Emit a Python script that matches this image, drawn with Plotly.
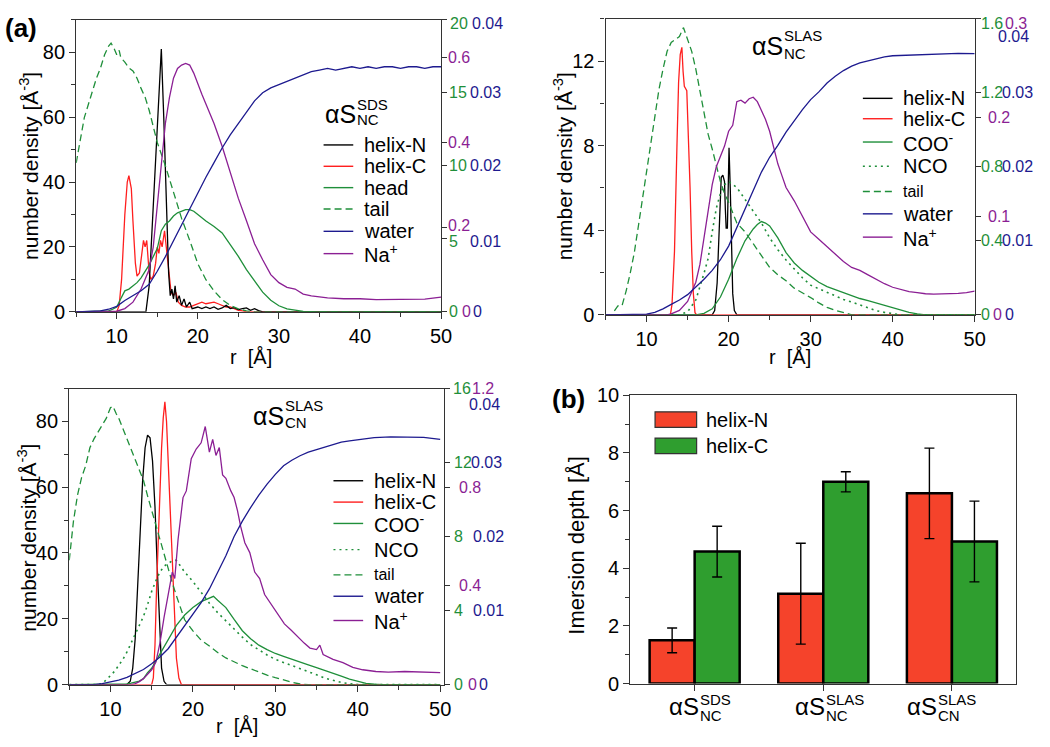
import plotly.graph_objects as go

# ---------------- data ----------------
# (a) top-left: aS NC in SDS
sds_tail_r = [5, 6, 7, 7.5, 8, 8.5, 9, 9.3, 9.7, 10, 10.3, 10.5, 11, 11.5, 12, 12.5, 13, 13.5, 14, 14.5, 15, 16, 17, 18, 19, 20, 21, 22, 23, 24, 25, 26, 27, 50]
sds_tail = [10.2, 13.3, 15.1, 16.0, 16.7, 17.6, 18.2, 18.4, 18.0, 17.6, 17.9, 17.4, 17.1, 16.7, 16.5, 16.0, 15.3, 14.7, 13.8, 12.7, 11.6, 10.0, 8.2, 6.4, 4.9, 3.3, 2.2, 1.44, 0.84, 0.44, 0.2, 0.07, 0, 0]
sds_head_r = [5, 8, 9, 9.5, 10, 10.5, 11, 11.5, 12, 12.5, 13, 13.5, 14, 14.5, 15, 15.5, 16, 16.5, 17, 17.5, 18, 18.5, 19, 19.5, 20, 21, 22, 23, 24, 25, 26, 27, 28, 29, 30, 31, 32, 33, 34, 35, 50]
sds_head = [0, 0.02, 0.07, 0.18, 0.33, 0.9, 1.44, 1.56, 1.78, 2.0, 2.33, 2.78, 3.22, 3.78, 4.33, 5.56, 6.0, 6.22, 6.56, 6.78, 6.89, 7.0, 7.0, 6.89, 6.67, 6.22, 5.85, 5.4, 4.6, 3.8, 2.9, 2.1, 1.35, 0.8, 0.42, 0.2, 0.1, 0.04, 0.01, 0, 0]
sds_hn_r = [5, 13.6, 14, 14.5, 15, 15.5, 15.8, 16.1, 16.4, 16.6, 16.8, 17, 17.2, 17.4, 17.7, 18, 18.3, 18.6, 19, 19.3, 20, 20.5, 21, 21.5, 22, 22.5, 23, 23.5, 24, 24.5, 25, 25.5, 26, 26.5, 27, 27.5, 28, 50]
sds_hn = [0, 0, 8, 33, 58, 81, 60, 35, 12, 5, 7, 4, 8, 3, 5, 2, 4, 1.5, 3, 1, 1.5, 1, 1.5, 1, 1.5, 0.8, 1.2, 2, 1, 1.3, 0.7, 1, 1.2, 0.5, 1, 0.4, 0, 0]
sds_hc_r = [5, 10, 10.3, 10.6, 11, 11.3, 11.5, 11.8, 12, 12.3, 12.5, 12.8, 13, 13.3, 13.5, 13.7, 14, 14.2, 14.5, 14.8, 15, 15.2, 15.4, 15.6, 15.9, 16.1, 16.4, 16.7, 17, 17.3, 17.6, 18, 18.5, 19, 19.5, 20, 20.5, 21, 21.5, 22, 22.5, 23, 23.5, 24, 24.5, 25, 25.5, 26, 50]
sds_hc = [0, 0, 2, 10, 30, 40, 42, 38, 28, 15, 11, 12, 16, 22, 20, 22, 12, 10, 11, 15, 20, 18, 22, 20, 25, 20, 12, 6, 5, 6, 3, 2, 1.5, 1.5, 2, 2.5, 3, 2.5, 2.8, 3, 2.5, 2, 1.5, 1.5, 1, 0.5, 0.3, 0, 0]
sds_water_r = [5, 7, 8, 9, 10, 11, 12, 13, 14, 15, 16, 17, 18, 19, 20, 21, 22, 23, 24, 25, 26, 27, 28, 29, 30, 31, 32, 33, 34, 35, 36, 37, 38, 39, 40, 41, 42, 43, 44, 45, 46, 47, 48, 49, 50]
sds_water = [0, 0.00002, 0.00013, 0.00036, 0.00076, 0.00156, 0.00222, 0.00289, 0.00378, 0.00556, 0.00756, 0.00978, 0.012, 0.01422, 0.01644, 0.01844, 0.02044, 0.02244, 0.02422, 0.02578, 0.02733, 0.02889, 0.03, 0.03067, 0.03111, 0.03156, 0.032, 0.03244, 0.03289, 0.03311, 0.03333, 0.03311, 0.03333, 0.03356, 0.03333, 0.03356, 0.03333, 0.03356, 0.03356, 0.03333, 0.03356, 0.03356, 0.03333, 0.03356, 0.03356]
sds_na_r = [5, 9, 10, 11, 12, 13, 13.5, 14, 14.5, 15, 15.5, 16, 16.5, 17, 17.5, 18, 18.5, 19, 19.5, 20, 20.5, 21, 22, 23, 24, 25, 26, 27, 28, 29, 30, 31, 32, 33, 34, 35, 36, 38, 40, 42, 45, 48, 50]
sds_na = [0, 0, 0.0015, 0.0077, 0.023, 0.054, 0.077, 0.1, 0.153, 0.245, 0.353, 0.445, 0.506, 0.552, 0.575, 0.583, 0.587, 0.583, 0.564, 0.537, 0.514, 0.491, 0.445, 0.391, 0.33, 0.268, 0.215, 0.161, 0.123, 0.088, 0.069, 0.058, 0.054, 0.042, 0.038, 0.035, 0.033, 0.031, 0.031, 0.029, 0.029, 0.03, 0.035]

# top-right: aS NC in SLAS
nc_tail_r = [5, 5.8, 6, 6.5, 7, 7.5, 8, 8.5, 9, 9.5, 10, 10.5, 11, 11.5, 12, 12.5, 13, 13.5, 14, 14.5, 15, 15.5, 16, 16.5, 17, 17.5, 18, 18.5, 19, 19.5, 20, 21, 22, 23, 24, 25, 26, 27, 28, 29, 30, 31, 32, 33, 34, 35, 50]
nc_tail = [0, 0, 0.016, 0.048, 0.048, 0.128, 0.224, 0.336, 0.48, 0.624, 0.768, 0.928, 1.056, 1.216, 1.328, 1.424, 1.472, 1.488, 1.504, 1.552, 1.488, 1.424, 1.328, 1.216, 1.104, 0.976, 0.896, 0.8, 0.72, 0.656, 0.608, 0.496, 0.448, 0.384, 0.32, 0.256, 0.216, 0.184, 0.144, 0.12, 0.093, 0.064, 0.04, 0.024, 0.01, 0, 0]
nc_nco_r = [5, 14, 15, 16, 17, 17.5, 18, 18.5, 19, 19.5, 20, 20.5, 21, 21.5, 22, 23, 24, 25, 26, 27, 28, 29, 30, 31, 32, 33, 34, 35, 36, 37, 38, 39, 40, 41, 50]
nc_nco = [0, 0, 0.016, 0.08, 0.224, 0.304, 0.448, 0.576, 0.656, 0.704, 0.72, 0.704, 0.688, 0.656, 0.624, 0.56, 0.496, 0.416, 0.352, 0.296, 0.248, 0.2, 0.16, 0.141, 0.12, 0.099, 0.083, 0.069, 0.053, 0.037, 0.022, 0.013, 0.005, 0, 0]
nc_coo_r = [5, 16, 17, 18, 19, 20, 21, 22, 23, 23.5, 24, 24.5, 25, 26, 27, 28, 29, 30, 31, 32, 33, 34, 35, 36, 37, 38, 39, 40, 41, 42, 43, 44, 50]
nc_coo = [0, 0, 0.008, 0.032, 0.096, 0.192, 0.304, 0.4, 0.464, 0.488, 0.504, 0.496, 0.48, 0.416, 0.336, 0.28, 0.24, 0.208, 0.176, 0.152, 0.136, 0.12, 0.104, 0.088, 0.077, 0.064, 0.048, 0.035, 0.022, 0.013, 0.005, 0, 0]
nc_hn_r = [5, 18, 18.3, 18.6, 18.9, 19.1, 19.3, 19.5, 19.6, 19.7, 19.85, 19.95, 20.05, 20.2, 20.35, 20.5, 20.7, 21, 50]
nc_hn = [0, 0, 0.2, 1.5, 4.5, 6.5, 6.6, 6.3, 5, 4.1, 4.1, 6, 7.9, 6, 3, 1, 0.2, 0, 0]
nc_hc_r = [5, 12.9, 13.1, 13.4, 13.7, 13.9, 14.1, 14.3, 14.45, 14.6, 14.9, 15.1, 15.3, 15.5, 15.7, 15.9, 16.1, 50]
nc_hc = [0, 0, 0.5, 3, 8, 11, 12.3, 12.65, 11.5, 10.8, 10.6, 8.5, 6, 3, 1, 0.1, 0, 0]
nc_water_r = [5, 8, 9, 10, 11, 12, 13, 14, 15, 16, 17, 18, 19, 20, 21, 22, 23, 24, 25, 26, 27, 28, 29, 30, 31, 32, 33, 34, 35, 36, 37, 38, 39, 40, 42, 44, 46, 48, 50]
nc_water = [0, 0, 0.00004, 0.00008, 0.00032, 0.0008, 0.0014, 0.002, 0.00272, 0.00372, 0.0048, 0.006, 0.00744, 0.00928, 0.0118, 0.01432, 0.01688, 0.01928, 0.02128, 0.02288, 0.02468, 0.02628, 0.02772, 0.02908, 0.03012, 0.03132, 0.03224, 0.033, 0.0336, 0.03404, 0.03432, 0.0346, 0.03484, 0.035, 0.03508, 0.03516, 0.03528, 0.03532, 0.03528]
nc_na_r = [5, 12.5, 13, 14, 15, 16, 16.5, 17, 17.5, 18, 18.5, 19, 19.5, 20, 20.5, 21, 21.5, 22, 22.5, 23, 23.5, 24, 24.5, 25, 25.5, 26, 26.5, 27, 28, 29, 30, 31, 32, 33, 34, 35, 36, 37, 38, 39, 40, 41, 42, 43, 44, 45, 46, 47, 48, 49, 50]
nc_na = [0, 0, 0.0009, 0.0045, 0.0135, 0.033, 0.051, 0.078, 0.108, 0.132, 0.15, 0.1605, 0.171, 0.186, 0.192, 0.216, 0.2175, 0.2145, 0.219, 0.2205, 0.216, 0.207, 0.198, 0.186, 0.168, 0.153, 0.141, 0.129, 0.1155, 0.099, 0.084, 0.0765, 0.069, 0.0615, 0.054, 0.048, 0.045, 0.0405, 0.036, 0.0315, 0.0279, 0.0255, 0.0234, 0.0225, 0.0213, 0.021, 0.021, 0.0213, 0.0216, 0.0225, 0.024]

# bottom-left: aS CN in SLAS
cn_tail_r = [5, 5.5, 6, 6.5, 7, 7.5, 8, 8.5, 9, 9.5, 10, 10.3, 10.7, 11, 11.5, 12, 12.5, 13, 13.5, 14, 14.5, 15, 15.5, 16, 16.5, 17, 17.5, 18, 18.5, 19, 20, 21, 22, 23, 24, 25, 26, 27, 28, 29, 30, 31, 32, 33, 34, 50]
cn_tail = [6.72, 8.8, 10.24, 11.2, 11.84, 12.8, 13.28, 13.68, 14.08, 14.4, 14.96, 15.04, 14.64, 14.4, 13.84, 13.28, 12.8, 12.24, 11.6, 11.04, 10.2, 9.4, 8.6, 7.8, 7.1, 6.3, 5.5, 4.8, 4.1, 3.5, 2.9, 2.4, 2.08, 1.73, 1.44, 1.22, 1.02, 0.85, 0.67, 0.51, 0.37, 0.24, 0.13, 0.03, 0, 0]
cn_nco_r = [5, 8.5, 9, 9.5, 10, 10.5, 11, 11.5, 12, 12.5, 13, 13.5, 14, 14.5, 15, 15.5, 16, 16.5, 17, 17.5, 18, 18.5, 19, 20, 21, 22, 23, 24, 25, 26, 27, 28, 29, 30, 31, 32, 33, 34, 35, 36, 37, 38, 39, 40, 50]
cn_nco = [0, 0, 0.05, 0.24, 0.48, 0.72, 1.04, 1.36, 1.76, 2.24, 2.72, 3.12, 3.68, 4.32, 5.04, 5.6, 6.08, 6.4, 6.56, 6.69, 6.72, 6.4, 6.08, 5.57, 4.96, 4.4, 3.89, 3.44, 3.04, 2.56, 2.16, 1.86, 1.6, 1.36, 1.2, 1.04, 0.88, 0.7, 0.53, 0.35, 0.22, 0.11, 0.05, 0, 0]
cn_coo_r = [5, 11.5, 12, 12.5, 13, 13.5, 14, 14.5, 15, 15.5, 16, 17, 18, 19, 20, 21, 22, 22.5, 23, 24, 25, 26, 27, 28, 29, 30, 31, 32, 33, 34, 35, 36, 37, 38, 39, 40, 41, 42, 43, 50]
cn_coo = [0, 0, 0.03, 0.08, 0.13, 0.19, 0.32, 0.64, 0.88, 1.28, 1.68, 2.4, 3.2, 3.76, 4.16, 4.48, 4.69, 4.77, 4.56, 4.16, 3.52, 2.91, 2.48, 2.13, 1.89, 1.68, 1.52, 1.38, 1.22, 1.07, 0.91, 0.77, 0.61, 0.45, 0.29, 0.16, 0.06, 0.02, 0, 0]
cn_hn_r = [5, 12, 12.4, 12.7, 13, 13.3, 13.6, 13.9, 14.2, 14.5, 14.8, 15.1, 15.4, 15.7, 16, 16.2, 16.5, 16.8, 50]
cn_hn = [0, 0, 1, 5, 14, 28, 46, 62, 72, 75.8, 75, 68, 54, 34, 14, 5, 1, 0, 0]
cn_hc_r = [5, 15, 15.2, 15.4, 15.6, 15.8, 16, 16.2, 16.4, 16.6, 16.8, 17, 17.2, 17.4, 17.6, 17.8, 18, 18.3, 18.6, 50]
cn_hc = [0, 0, 2, 12, 30, 45, 58, 72, 81, 86, 80, 68, 55, 42, 30, 17, 8, 2, 0, 0]
cn_water_r = [5, 8, 9, 10, 11, 12, 13, 14, 15, 16, 17, 18, 19, 20, 21, 22, 23, 24, 25, 26, 27, 28, 29, 30, 31, 32, 33, 34, 35, 36, 37, 38, 39, 40, 42, 44, 46, 48, 50]
cn_water = [0, 0, 0.00012, 0.00032, 0.0006, 0.00096, 0.00148, 0.00204, 0.0028, 0.00372, 0.00484, 0.0064, 0.00792, 0.0094, 0.01108, 0.01292, 0.01512, 0.0174, 0.02, 0.02208, 0.02392, 0.0256, 0.02708, 0.0284, 0.02956, 0.03032, 0.03092, 0.0314, 0.03176, 0.03212, 0.03248, 0.03276, 0.03292, 0.03308, 0.03336, 0.03348, 0.03348, 0.0334, 0.03312]
cn_na_r = [5, 12.5, 13, 13.5, 14, 14.5, 15, 15.5, 16, 16.5, 17, 17.5, 17.8, 18.2, 18.8, 19.2, 19.8, 20.4, 21, 21.5, 22, 22.4, 22.8, 23.2, 23.6, 24, 24.6, 25, 25.4, 25.8, 26.3, 26.9, 27.5, 28.1, 28.7, 29.5, 30.3, 31.1, 31.9, 32.7, 33.5, 34.2, 35, 35.4, 35.8, 37, 38.2, 39.4, 40.6, 42.2, 43.7, 45.7, 47.7, 49.7, 50]
cn_na = [0, 0, 0.0036, 0.012, 0.024, 0.043, 0.06, 0.09, 0.168, 0.272, 0.372, 0.456, 0.43, 0.588, 0.758, 0.785, 0.916, 0.955, 0.98, 1.046, 0.942, 0.994, 0.929, 0.961, 0.85, 0.836, 0.785, 0.758, 0.706, 0.64, 0.575, 0.535, 0.456, 0.43, 0.365, 0.325, 0.286, 0.246, 0.221, 0.194, 0.168, 0.148, 0.142, 0.16, 0.122, 0.102, 0.089, 0.07, 0.06, 0.053, 0.05, 0.053, 0.05, 0.046, 0.048]

# (b) immersion depth
systems = [("SDS", "NC"), ("SLAS", "NC"), ("SLAS", "CN")]
depth_helixN = [1.5, 3.12, 6.6]
err_helixN = [0.43, 1.75, 1.57]
depth_helixC = [4.58, 7.0, 4.93]
err_helixC = [0.88, 0.35, 1.4]

# right-hand axis ticks
sds_green_ticks = [0, 5, 10, 15, 20]
sds_purple_ticks = [0, 0.2, 0.4, 0.6]
sds_navy_ticks = [0, 0.01, 0.02, 0.03, 0.04]
nc_green_ticks = [0, 0.4, 0.8, 1.2, 1.6]
nc_purple_ticks = [0, 0.1, 0.2, 0.3]
nc_navy_ticks = [0, 0.01, 0.02, 0.03, 0.04]
cn_green_ticks = [0, 4, 8, 12, 16]
cn_purple_ticks = [0, 0.4, 0.8, 1.2]
cn_navy_ticks = [0, 0.01, 0.02, 0.03, 0.04]

# ---------------- style ----------------
W, H = 1050, 747
FONT = "Liberation Sans, Arial, sans-serif"
GREEN = "#1f8f3a"
NAVY = "#1d1a8f"
PURPLE = "#8b1f94"
RED = "#ff1f1f"
BLACK = "#000000"
AXC = "#333333"
BAR_RED = "#f5432b"
BAR_GREEN = "#2f9e2f"
DASH = "7px,4px"
DOT = "2px,4px"


def fx(p):
    return p / W


def fy(p):
    return 1 - p / H


fig = go.Figure()


def line(xs, ys, xa, ya, color, dash="solid", width=1.3):
    fig.add_trace(go.Scatter(x=xs, y=ys, xaxis=xa, yaxis=ya, mode="lines",
                             line=dict(color=color, width=width, dash=dash),
                             showlegend=False, hoverinfo="skip"))


# panel 1: y left / y2 green / y3 purple / y4 navy
line(sds_tail_r, sds_tail, "x", "y2", GREEN, DASH)
line(sds_head_r, sds_head, "x", "y2", GREEN)
line(sds_water_r, sds_water, "x", "y4", NAVY)
line(sds_na_r, sds_na, "x", "y3", PURPLE)
line(sds_hc_r, sds_hc, "x", "y", RED)
line(sds_hn_r, sds_hn, "x", "y", BLACK)

# panel 2
line(nc_tail_r, nc_tail, "x2", "y6", GREEN, DASH)
line(nc_nco_r, nc_nco, "x2", "y6", GREEN, DOT, 1.6)
line(nc_coo_r, nc_coo, "x2", "y6", GREEN)
line(nc_water_r, nc_water, "x2", "y8", NAVY)
line(nc_na_r, nc_na, "x2", "y7", PURPLE)
line(nc_hn_r, nc_hn, "x2", "y5", BLACK)
line(nc_hc_r, nc_hc, "x2", "y5", RED)

# panel 3
line(cn_tail_r, cn_tail, "x3", "y10", GREEN, DASH)
line(cn_nco_r, cn_nco, "x3", "y10", GREEN, DOT, 1.6)
line(cn_coo_r, cn_coo, "x3", "y10", GREEN)
line(cn_water_r, cn_water, "x3", "y12", NAVY)
line(cn_na_r, cn_na, "x3", "y11", PURPLE)
line(cn_hn_r, cn_hn, "x3", "y9", BLACK)
line(cn_hc_r, cn_hc, "x3", "y9", RED)

# panel 4 bars
cats = list(range(len(systems)))
fig.add_trace(go.Bar(x=cats, y=depth_helixN, xaxis="x4", yaxis="y13",
                     marker=dict(color=BAR_RED, line=dict(color="black", width=2.5)),
                     error_y=dict(type="data", array=err_helixN, color="black", thickness=1.4, width=5),
                     showlegend=False, hoverinfo="skip"))
fig.add_trace(go.Bar(x=cats, y=depth_helixC, xaxis="x4", yaxis="y13",
                     marker=dict(color=BAR_GREEN, line=dict(color="black", width=2.5)),
                     error_y=dict(type="data", array=err_helixC, color="black", thickness=1.4, width=5),
                     showlegend=False, hoverinfo="skip"))

tickfont = dict(family=FONT, size=20, color="black")
base = dict(showline=True, linecolor=AXC, linewidth=1.3, mirror=True, ticks="outside",
            ticklen=6, tickwidth=1.2, tickcolor=AXC, showgrid=False, zeroline=False,
            tickfont=tickfont, layer="below traces")


def xr(dom, rng):
    return dict(base, domain=[fx(dom[0]), fx(dom[1])], range=rng, tick0=0, dtick=10,
                minor=dict(dtick=5, ticks="outside", ticklen=4, tickcolor=AXC, showgrid=False))


def yl(dom, rng, dt, mdt, anchor):
    return dict(base, domain=[fy(dom[1]), fy(dom[0])], range=rng, tick0=0, dtick=dt, anchor=anchor,
                minor=dict(dtick=mdt, ticks="outside", ticklen=4, tickcolor=AXC, showgrid=False))


def yr(over, anchor, rng, tv, show=True):
    return dict(overlaying=over, anchor=anchor, side="right", range=rng, tickvals=tv,
                showticklabels=False, ticks="outside" if show else "", ticklen=5, tickwidth=1.2,
                tickcolor=AXC, showgrid=False, zeroline=False, showline=False)


fig.update_layout(
    xaxis=dict(xr((77, 445.7), [5, 50]), anchor="y"),
    yaxis=yl((9, 310), [0, 90], 20, 10, "x"),
    yaxis2=yr("y", "x", [0, 20], sds_green_ticks),
    yaxis3=yr("y", "x", [0, 0.69], sds_purple_ticks),
    yaxis4=yr("y", "x", [0, 0.04], [], False),
    xaxis2=dict(xr((612, 985), [5, 50]), anchor="y5"),
    yaxis5=yl((8, 313), [0, 14], 4, 2, "x2"),
    yaxis6=yr("y5", "x2", [0, 1.6], nc_green_ticks),
    yaxis7=yr("y5", "x2", [0, 0.3], nc_purple_ticks),
    yaxis8=yr("y5", "x2", [0, 0.04], [], False),
    xaxis3=dict(xr((70, 449), [5, 50.5]), anchor="y9"),
    yaxis9=yl((389, 694), [0, 90], 20, 10, "x3"),
    yaxis10=yr("y9", "x3", [0, 16], cn_green_ticks),
    yaxis11=yr("y9", "x3", [0, 1.2], cn_purple_ticks),
    yaxis12=yr("y9", "x3", [0, 0.04], [], False),
    xaxis4=dict(base, domain=[fx(637), fx(1027)], range=[-0.5, 2.5], tickvals=cats,
                showticklabels=False, anchor="y13"),
    yaxis13=yl((396, 693), [0, 10], 2, 1, "x4"),
    barmode="group", bargap=0.3, bargroupgap=0,
    width=W, height=H, autosize=False,
    margin=dict(l=0, r=0, t=0, b=0),
    paper_bgcolor="white", plot_bgcolor="white",
    font=dict(family=FONT, size=20, color="black"),
    showlegend=False,
)

ann = []
shapes = []


def text(t, xp, yp, size=20, color="black", xanchor="center", angle=0, bold=False):
    if bold:
        t = "<b>" + t + "</b>"
    ann.append(dict(text=t, x=fx(xp), y=fy(yp), xref="paper", yref="paper", showarrow=False,
                    xanchor=xanchor, yanchor="middle", textangle=angle, borderpad=0,
                    font=dict(family=FONT, size=size, color=color)))


def tick_labels(ticks, yref, color, xp, special=None):
    special = special or {}
    for v in ticks:
        x_here, ysh = special.get(v, (xp, 0))
        ann.append(dict(text=f"{v:g}", x=fx(x_here), y=v, xref="paper", yref=yref, showarrow=False,
                        xanchor="left", yanchor="middle", yshift=ysh, borderpad=0,
                        font=dict(family=FONT, size=16, color=color)))


# right-hand tick labels
tick_labels(sds_green_ticks, "y2", GREEN, 453, {20: (454, -4), 5: (453, -3)})
tick_labels(sds_purple_ticks, "y3", PURPLE, 452, {0: (466, 0), 0.2: (452, 2)})
tick_labels(sds_navy_ticks, "y4", NAVY, 474, {0: (477, 0), 0.04: (476, -4), 0.01: (474, -3)})
tick_labels(nc_green_ticks, "y6", GREEN, 990, {1.6: (990, -5)})
tick_labels(nc_purple_ticks, "y7", PURPLE, 997, {0.3: (1015, -5), 0: (1002, 0)})
tick_labels(nc_navy_ticks, "y8", NAVY, 1012, {0.04: (1008, -18), 0: (1015, 0)})
tick_labels(cn_green_ticks, "y10", GREEN, 458, {16: (457, 0)})
tick_labels(cn_purple_ticks, "y11", PURPLE, 463, {1.2: (476, 0), 0: (472, 0)})
tick_labels(cn_navy_ticks, "y12", NAVY, 477, {0.04: (473, -16), 0.03: (475, 0), 0: (483, 0)})

# axis titles
dens = "number density [Å<sup>-3</sup>]"
text(dens, 30, 160, size=21, angle=-90)
text(dens, 569, 160, size=21, angle=-90)
text(dens, 27, 543, size=21, angle=-90)
text("Imersion depth [Å]", 583, 550, size=22, angle=-90)
text("r\u00a0 [Å]", 254, 356)
text("r\u00a0 [Å]", 798, 356)
text("r\u00a0 [Å]", 240, 737)
text("(a)", 21, 18, size=26, bold=True)
text("(b)", 575, 400, size=26, bold=True)


def species(xr_, yc, sup, sub, big=25, small=15, up=10, down=6):
    # aS with stacked superscript / subscript
    text("αS", xr_, yc, size=big, xanchor="right")
    text(sup, xr_ - 1, yc - up, size=small, xanchor="left")
    text(sub, xr_ - 1, yc + down, size=small, xanchor="left")


species(361, 106, "SDS", "NC")
species(792, 36, "SLAS", "NC", up=11, down=8)
species(288, 417, "SLAS", "CN", up=11, down=7)
for (sup, sub), xp in zip(systems, [707, 835, 948]):
    species(xp, 717, sup, sub, big=24, up=8, down=9)


def legend(x0, x1, xt, rows, items):
    for yp, (name, color, dash, size) in zip(rows, items):
        shapes.append(dict(type="line", xref="paper", yref="paper", x0=fx(x0), x1=fx(x1),
                           y0=fy(yp), y1=fy(yp), line=dict(color=color, width=1.4, dash=dash)))
        text(name, xt, yp, size=size, xanchor="left")


legend(327, 357, 367, [138, 160, 182, 204, 227, 250], [
    ("helix-N", BLACK, "solid", 20), ("helix-C", RED, "solid", 20), ("head", GREEN, "solid", 20),
    ("tail", GREEN, DASH, 20), ("water", NAVY, "solid", 20), ("Na<sup>+</sup>", PURPLE, "solid", 20)])
nc_items = [("helix-N", BLACK, "solid", 20), ("helix-C", RED, "solid", 20),
            ("COO<sup>-</sup>", GREEN, "solid", 20), ("NCO", GREEN, DOT, 20), ("tail", GREEN, DASH, 16),
            ("water", NAVY, "solid", 20), ("Na<sup>+</sup>", PURPLE, "solid", 20)]
legend(872, 902, 912, [90, 111, 135, 160, 186, 209, 233], nc_items)
legend(337, 367, 377, [484, 506, 528, 555, 581, 603, 628], nc_items)

# bar legend
for (y0, y1, col, name) in [(413, 429, BAR_RED, "helix-N"), (440, 456, BAR_GREEN, "helix-C")]:
    shapes.append(dict(type="rect", xref="paper", yref="paper", x0=fx(662), x1=fx(704),
                       y0=fy(y1), y1=fy(y0), fillcolor=col, line=dict(color=AXC, width=1.2)))
    text(name, 712, (y0 + y1) / 2, size=20, xanchor="left")

fig.update_layout(annotations=ann, shapes=shapes)
fig.write_html("out.html", config={"displayModeBar": False},
               post_script="document.body.style.margin='0px';")
